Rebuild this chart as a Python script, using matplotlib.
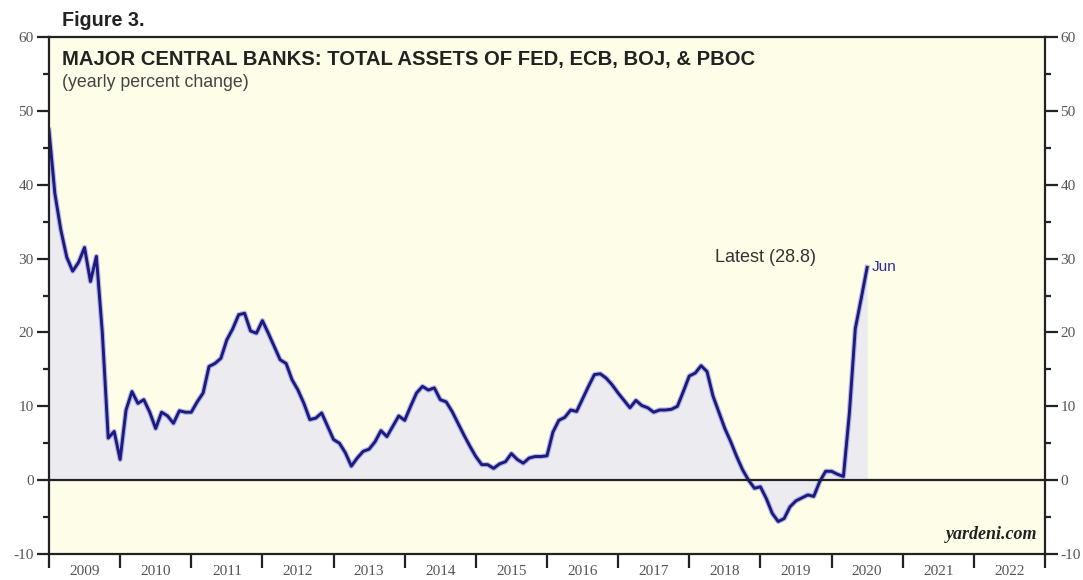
import numpy as np
import matplotlib.pyplot as plt
from matplotlib.ticker import MultipleLocator, FixedLocator, NullFormatter, FixedFormatter

plt.rcParams['axes.unicode_minus'] = False

# yearly % change of combined central bank assets, month-end Dec 2008 .. Jun 2020
pct_change = [
    47.4, 38.8, 33.9, 30.2, 28.3, 29.5, 31.5, 26.9, 30.3, 20.0,
    5.7, 6.6, 2.8, 9.5, 12.0, 10.4, 10.9, 9.2, 7.0, 9.2,
    8.7, 7.7, 9.4, 9.2, 9.2, 10.6, 11.8, 15.4, 15.8, 16.5,
    19.0, 20.5, 22.4, 22.6, 20.2, 19.9, 21.6, 19.9, 18.1, 16.3,
    15.8, 13.6, 12.2, 10.4, 8.2, 8.4, 9.1, 7.3, 5.5, 5.0,
    3.7, 1.9, 3.0, 3.9, 4.2, 5.2, 6.7, 5.9, 7.3, 8.7,
    8.1, 10.0, 11.8, 12.7, 12.2, 12.5, 10.9, 10.6, 9.3, 7.7,
    6.1, 4.6, 3.2, 2.1, 2.1, 1.6, 2.2, 2.5, 3.6, 2.8,
    2.3, 3.0, 3.2, 3.2, 3.3, 6.5, 8.1, 8.5, 9.5, 9.3,
    11.0, 12.7, 14.3, 14.4, 13.8, 12.9, 11.8, 10.8, 9.8, 10.8,
    10.1, 9.8, 9.2, 9.5, 9.5, 9.6, 10.0, 12.0, 14.1, 14.5,
    15.5, 14.7, 11.4, 9.2, 7.0, 5.2, 3.2, 1.4, 0.0, -1.1,
    -0.9, -2.5, -4.5, -5.6, -5.2, -3.6, -2.8, -2.4, -2.0, -2.2,
    -0.2, 1.2, 1.2, 0.8, 0.5, 9.0, 20.5, 24.6, 28.8,
]
start_year = 2009
years = list(range(2009, 2023))
latest = pct_change[-1]

x = start_year + np.arange(len(pct_change)) / 12.0
vals = np.array(pct_change)

fig = plt.figure(figsize=(10.83, 5.8), dpi=100)
ax = fig.add_axes([0.0452, 0.0448, 0.9197, 0.8914])
ax.set_facecolor('#fefee8')

ax.fill_between(x, vals, 0, color='#ececf0', lw=0)
ax.plot(x, vals, color='#7b7bd6', lw=3.8, solid_joinstyle='round', alpha=0.5)
ax.plot(x, vals, color='#1a1a80', lw=2.1, solid_joinstyle='round')
ax.axhline(0, color='#222222', lw=1.6)

ax.set_xlim(2009, 2023)
ax.set_ylim(-10, 60)

# y axis: labels on both sides, minor ticks every 5
ax.yaxis.set_major_locator(MultipleLocator(10))
ax.yaxis.set_minor_locator(MultipleLocator(5))
ax.tick_params(axis='y', which='both', direction='out', left=True, right=True,
               labelleft=True, labelright=True, colors='#222222', labelcolor='#555555',
               labelsize=11, width=1.6)
ax.tick_params(axis='y', which='major', length=9, pad=2)
ax.tick_params(axis='y', which='minor', length=4)

# x axis: ticks at year boundaries, labels centred on each year
ax.xaxis.set_major_locator(FixedLocator(list(range(2009, 2024))))
ax.xaxis.set_major_formatter(NullFormatter())
ax.xaxis.set_minor_locator(FixedLocator([y + 0.5 for y in years]))
ax.xaxis.set_minor_formatter(FixedFormatter([str(y) for y in years]))
ax.tick_params(axis='x', which='major', direction='out', length=10, width=1.6, color='#222222')
ax.tick_params(axis='x', which='minor', length=0, pad=8, labelsize=11, labelcolor='#555555')

for lab in ax.get_xticklabels(which='both') + ax.get_yticklabels(which='both'):
    lab.set_family('Liberation Serif')

for s in ax.spines.values():
    s.set_linewidth(1.6)
    s.set_color('#222222')

fig.text(62 / 1083, 1 - 20 / 580, 'Figure 3.', fontsize=14.2, fontweight='bold',
         family='Liberation Sans', color='#222222', va='center', ha='left')
ax.text(0.0135, 0.975, 'MAJOR CENTRAL BANKS: TOTAL ASSETS OF FED, ECB, BOJ, & PBOC',
        transform=ax.transAxes, fontsize=14.6, fontweight='bold', family='Liberation Sans',
        color='#222222', va='top', ha='left')
ax.text(0.0135, 0.928, '(yearly percent change)', transform=ax.transAxes, fontsize=12.8,
        family='Liberation Sans', color='#444444', va='top', ha='left')

ax.text(2019.07, 30.1, 'Latest (%.1f)' % latest, fontsize=13, family='Liberation Sans',
        color='#333333', ha='center', va='center')
ax.text(x[-1] + 0.07, latest, 'Jun', fontsize=11, family='Liberation Sans',
        color='#2a2a9a', ha='left', va='center')
ax.text(0.992, 0.022, 'yardeni.com', transform=ax.transAxes, fontsize=13,
        family='Liberation Serif', fontweight='bold', fontstyle='italic',
        color='#222222', ha='right', va='bottom')

fig.savefig('out.png', dpi=100)
